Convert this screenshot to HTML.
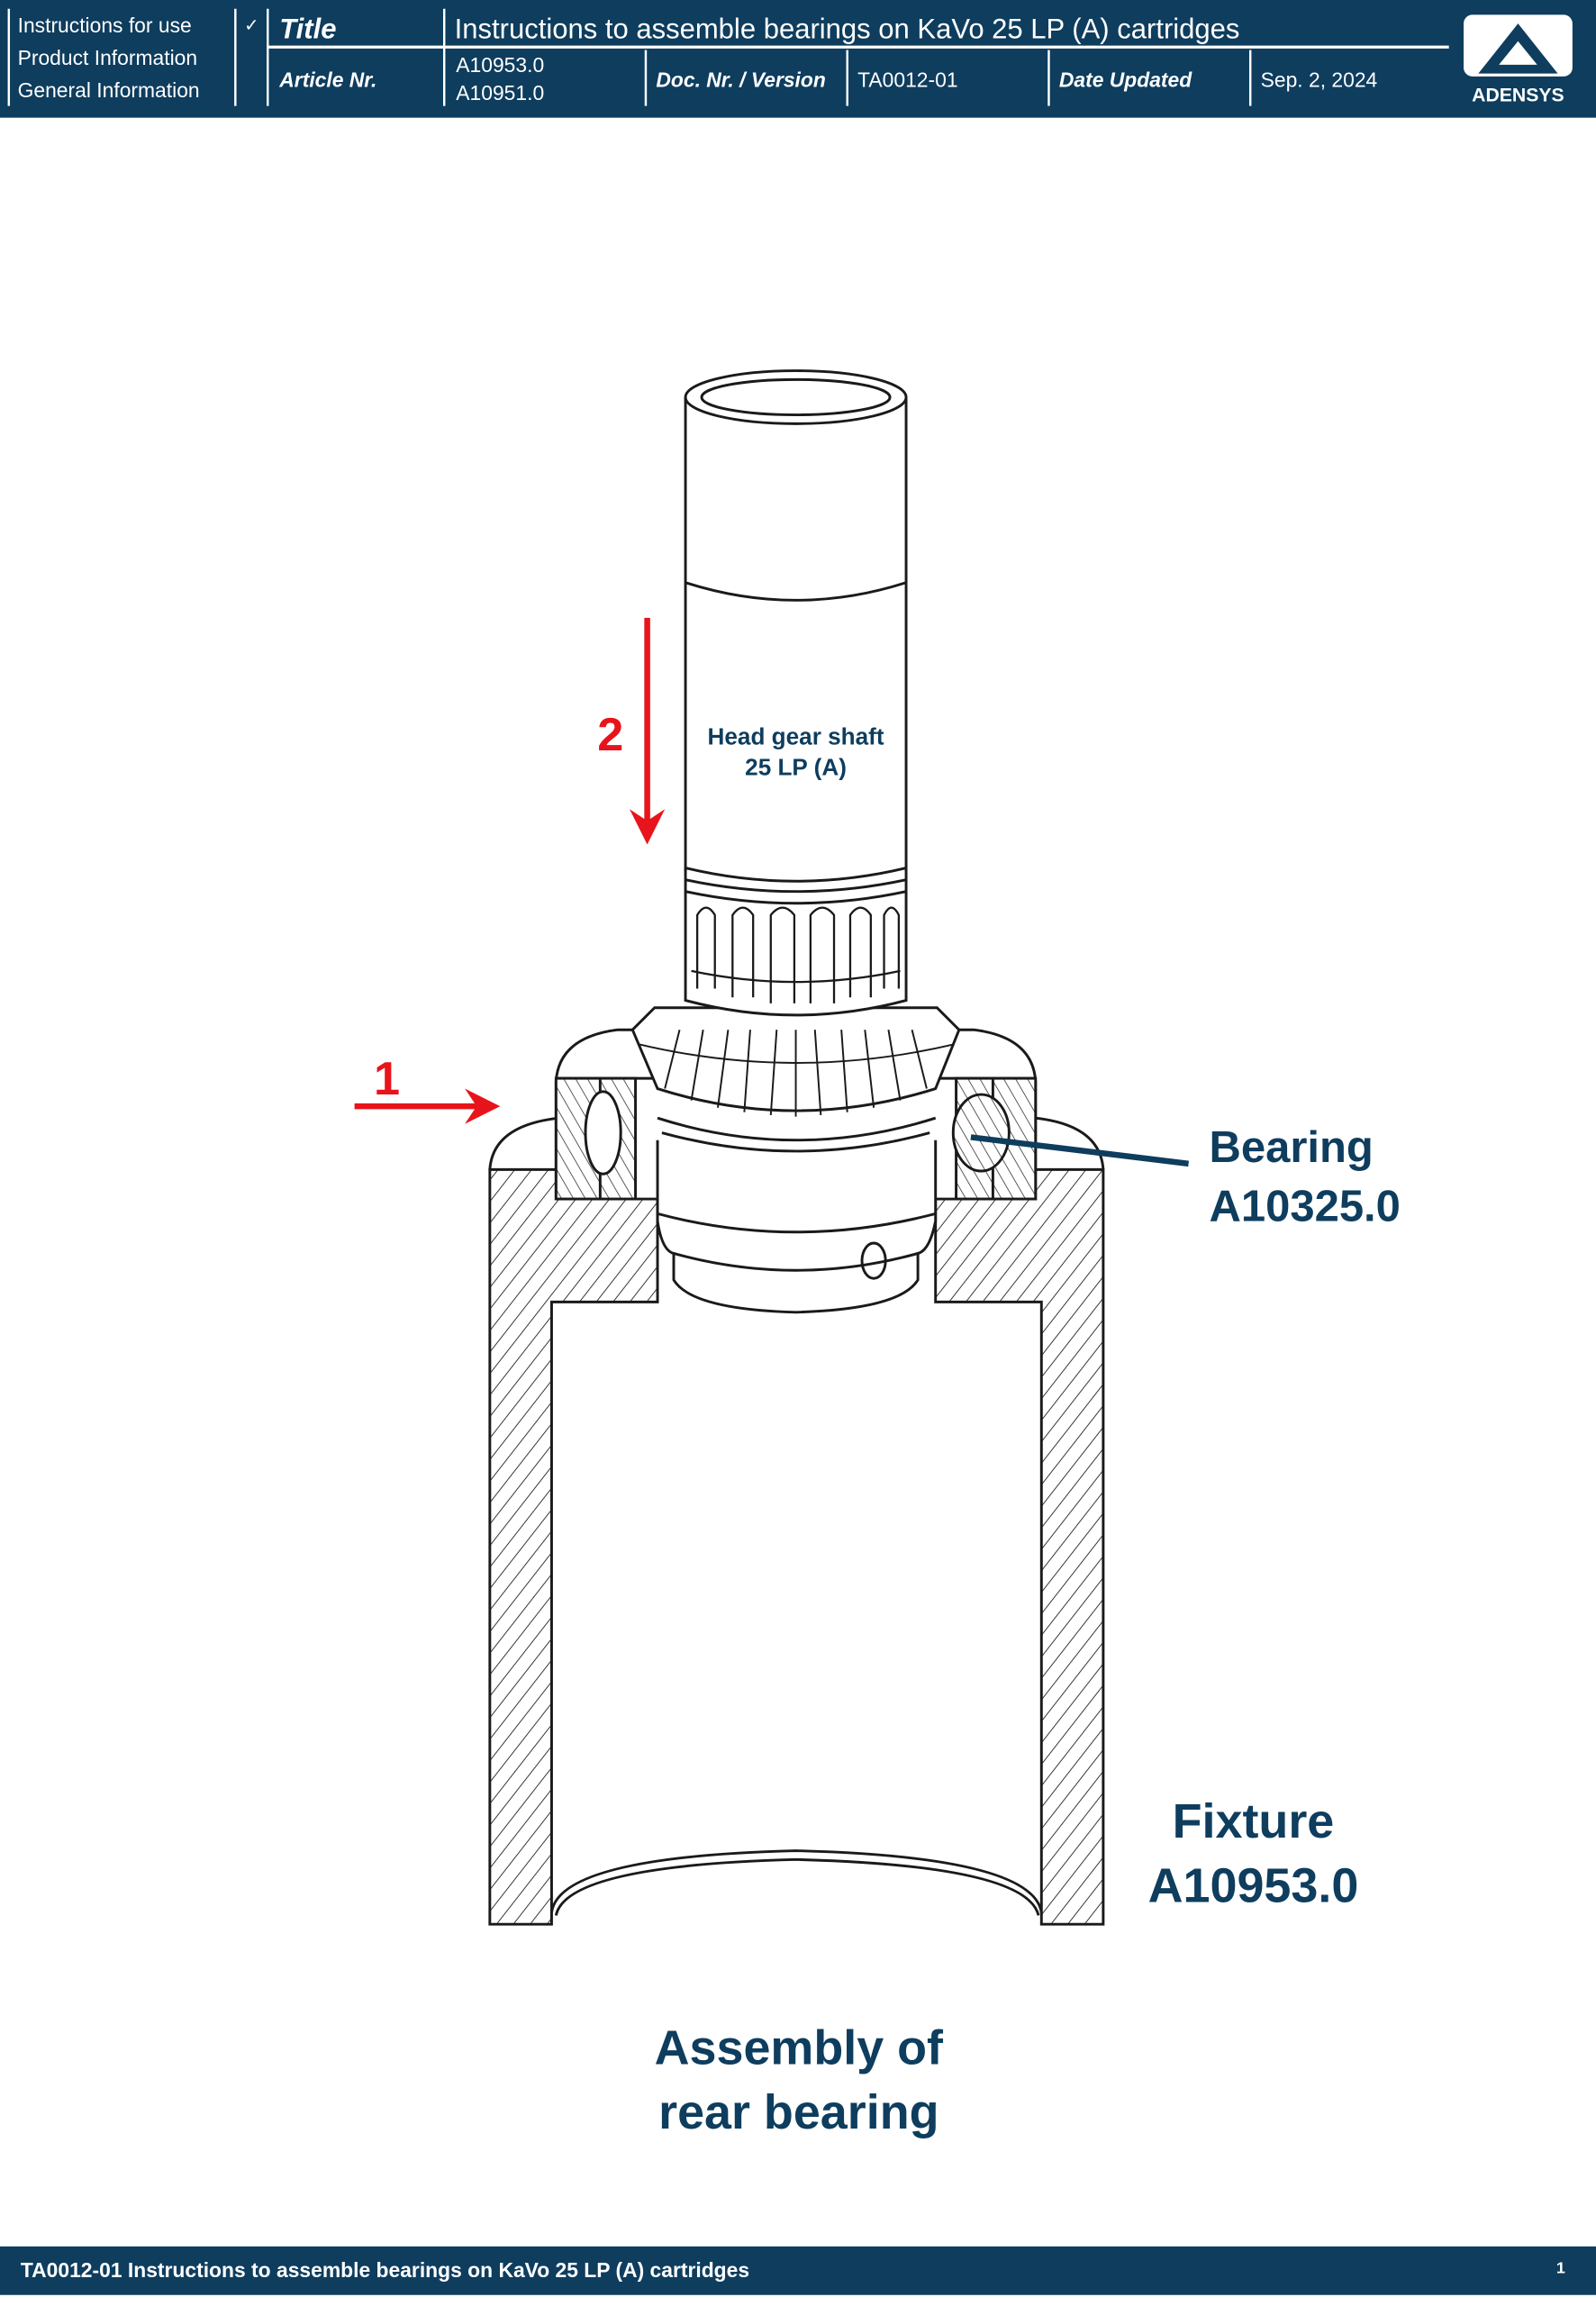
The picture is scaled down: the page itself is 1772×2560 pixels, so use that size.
<!DOCTYPE html>
<html><head><meta charset="utf-8"><style>
html,body{margin:0;padding:0;background:#fff}
svg{display:block}
text{font-family:"Liberation Sans",sans-serif}
</style></head><body>
<svg width="1772" height="2560" viewBox="0 0 1085 1567.5" xmlns="http://www.w3.org/2000/svg">
<defs>
<pattern id="h" patternUnits="userSpaceOnUse" width="9" height="9" patternTransform="rotate(38)">
<rect width="9" height="9" fill="#fff"/><line x1="0" y1="0" x2="0" y2="9" stroke="#222" stroke-width="1.1"/>
</pattern>
<pattern id="h2" patternUnits="userSpaceOnUse" width="7" height="7" patternTransform="rotate(-30)">
<rect width="7" height="7" fill="#fff"/><line x1="0" y1="0" x2="0" y2="7" stroke="#222" stroke-width="0.9"/>
</pattern>
</defs>
<rect x="0" y="0" width="1085" height="80" fill="#0e3d5e"/>
<g stroke="#fff" stroke-width="1.5">
<line x1="6" y1="6" x2="6" y2="72"/><line x1="160" y1="6" x2="160" y2="72"/>
<line x1="182" y1="6" x2="182" y2="72"/><line x1="302" y1="6" x2="302" y2="72"/>
<line x1="182" y1="32" x2="985" y2="32" stroke-width="2"/>
<line x1="439" y1="34" x2="439" y2="72"/><line x1="576" y1="34" x2="576" y2="72"/>
<line x1="713" y1="34" x2="713" y2="72"/><line x1="850" y1="34" x2="850" y2="72"/>
</g>
<g fill="#fff" font-size="14">
<text x="12" y="22">Instructions for use</text>
<text x="12" y="44">Product Information</text>
<text x="12" y="66">General Information</text>
<text x="166" y="21" font-size="12">✓</text>
<text x="190" y="26" font-size="19" font-weight="bold" font-style="italic">Title</text>
<text x="309" y="26" font-size="19">Instructions to assemble bearings on KaVo 25 LP (A) cartridges</text>
<text x="190" y="59" font-weight="bold" font-style="italic">Article Nr.</text>
<text x="310" y="49">A10953.0</text><text x="310" y="68">A10951.0</text>
<text x="446" y="59" font-weight="bold" font-style="italic">Doc. Nr. / Version</text>
<text x="583" y="59">TA0012-01</text>
<text x="720" y="59" font-weight="bold" font-style="italic">Date Updated</text>
<text x="857" y="59">Sep. 2, 2024</text>
</g>
<rect x="995" y="10" width="74" height="42" rx="6" fill="#fff"/>
<path d="M1005 50 L1032 16 L1059 50 Z M1019 44 L1045 44 L1032 28 Z" fill="#0e3d5e" fill-rule="evenodd"/>
<text x="1032" y="69" fill="#fff" font-size="13" font-weight="bold" text-anchor="middle">ADENSYS</text>
<rect x="0" y="1527" width="1085" height="33" fill="#0e3d5e"/>
<text x="14" y="1548" fill="#fff" font-size="14" font-weight="bold">TA0012-01 Instructions to assemble bearings on KaVo 25 LP (A) cartridges</text>
<text x="1058" y="1545" fill="#fff" font-size="11" font-weight="bold">1</text>

<g stroke="#1a1a1a" stroke-width="1.8" fill="none">
<path d="M333 795 Q335 765 380 760" fill="#fff"/>
<path d="M750 795 Q748 765 704 760" fill="#fff"/>
<path d="M333 795 L447 795 L447 885 L375 885 L375 1308 L333 1308 Z" fill="url(#h)"/>
<path d="M636 795 L750 795 L750 1308 L708 1308 L708 885 L636 885 Z" fill="url(#h)"/>
<path d="M375 1300 Q380 1262 541 1258 Q702 1262 708 1300"/>
<path d="M378 1302 Q385 1268 541 1264 Q698 1268 706 1302"/>
<path d="M378 815 L378 735 Q380 705 420 700 L662 700 Q702 705 704 735 L704 815 Z" fill="#fff"/>
<path d="M378 733 L704 733"/>
<rect x="378" y="733" width="54" height="82" fill="url(#h2)"/>
<rect x="650" y="733" width="54" height="82" fill="url(#h2)"/>
<line x1="408" y1="733" x2="408" y2="815"/><line x1="675" y1="733" x2="675" y2="815"/>
<ellipse cx="410" cy="770" rx="12" ry="28" fill="#fff"/>
<ellipse cx="667" cy="770" rx="19" ry="26" fill="url(#h2)"/>
<path d="M447 775 L447 830 Q450 850 458 852 L458 870 Q470 890 541 892 Q612 890 624 870 L624 852 Q632 850 636 830 L636 775" fill="#fff"/>
<path d="M447 825 Q541 850 636 825"/><path d="M458 852 Q541 875 624 852"/>
<ellipse cx="594" cy="857" rx="8" ry="12"/>
<path d="M447 760 Q541 790 636 760" />
<path d="M450 770 Q541 795 632 770" />
<path d="M430 700 L445 685 L637 685 L652 700 L636 740 Q541 770 447 740 Z" fill="#fff"/>
<g stroke-width="1.2">
<path d="M452 740 L462 700 M470 748 L478 700 M488 753 L495 700 M506 756 L510 700 M524 758 L528 700 M541 759 L541 700 M558 758 L554 700 M576 756 L572 700 M594 753 L588 700 M612 748 L604 700 M630 740 L620 700"/>
<path d="M435 710 Q541 735 648 710"/>
</g>
<path d="M466 590 L466 680 Q541 700 616 680 L616 590" fill="#fff"/>
<path d="M466 598 Q541 614 616 598"/><path d="M466 606 Q541 622 616 606"/>
<g stroke-width="1.4">
<path d="M474 672 L474 622 Q480 612 486 622 L486 672"/>
<path d="M498 678 L498 622 Q505 612 512 622 L512 678"/>
<path d="M524 682 L524 622 Q532 612 540 622 L540 682"/>
<path d="M551 682 L551 622 Q559 612 567 622 L567 682"/>
<path d="M578 678 L578 622 Q585 612 592 622 L592 678"/>
<path d="M601 672 L601 622 Q606 612 611 622 L611 672"/>
<path d="M470 660 Q541 675 612 660"/>
</g>
<rect x="466" y="270" width="150" height="320" fill="#fff" stroke="none"/>
<line x1="466" y1="270" x2="466" y2="592"/><line x1="616" y1="270" x2="616" y2="592"/>
<path d="M466 590 Q541 608 616 590"/>
<path d="M466 396 Q541 420 616 396"/>
<ellipse cx="541" cy="270" rx="75" ry="18" fill="#fff"/>
<ellipse cx="541" cy="270" rx="64" ry="12"/>
</g>
<g fill="#0e3d5e" font-weight="bold" text-anchor="middle">
<text x="541" y="506" font-size="16">Head gear shaft</text>
<text x="541" y="527" font-size="16">25 LP (A)</text>
<text x="822" y="790" font-size="30" text-anchor="start">Bearing</text>
<text x="822" y="830" font-size="30" text-anchor="start">A10325.0</text>
<text x="852" y="1249" font-size="33">Fixture</text>
<text x="852" y="1293" font-size="33">A10953.0</text>
<text x="543" y="1403" font-size="33">Assembly of</text>
<text x="543" y="1447" font-size="33">rear bearing</text>
</g>
<line x1="660" y1="773" x2="808" y2="791" stroke="#0e3d5e" stroke-width="4"/>
<g fill="#e8141b" stroke="#e8141b">
<line x1="440" y1="420" x2="440" y2="560" stroke-width="4"/>
<path d="M428 550 L440 574 L452 550 L440 558 Z" stroke="none"/>
<line x1="241" y1="752" x2="326" y2="752" stroke-width="4"/>
<path d="M316 740 L340 752 L316 764 L324 752 Z" stroke="none"/>
<text x="415" y="510" font-size="32" font-weight="bold" text-anchor="middle" stroke="none">2</text>
<text x="263" y="744" font-size="32" font-weight="bold" text-anchor="middle" stroke="none">1</text>
</g>
</svg>
</body></html>
